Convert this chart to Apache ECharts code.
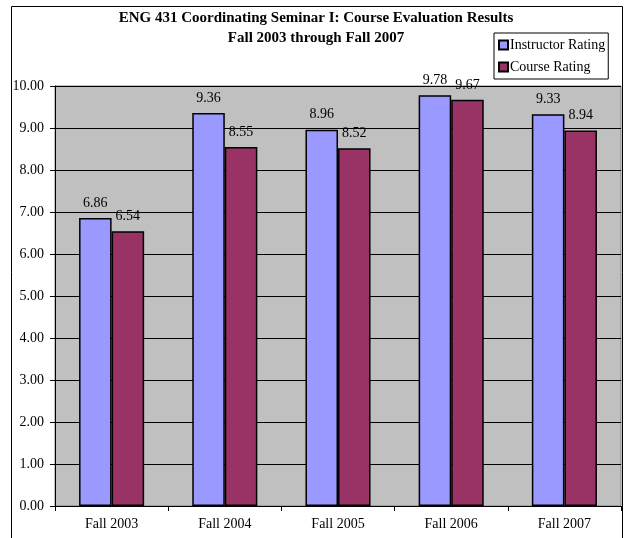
<!DOCTYPE html>
<html>
<head>
<meta charset="utf-8">
<script src="https://cdn.jsdelivr.net/npm/echarts@6/dist/echarts.min.js"></script>
<style>
  html, body { margin: 0; padding: 0; background: #ffffff; }
  #chart { width: 626px; height: 538px; }
</style>
</head>
<body>
<div id="chart"></div>
<script>
// Course evaluation results, ENG 431, Fall 2003 - Fall 2007
const terms = ['Fall 2003', 'Fall 2004', 'Fall 2005', 'Fall 2006', 'Fall 2007'];
const instructorRating = [6.86, 9.36, 8.96, 9.78, 9.33];
const courseRating = [6.54, 8.55, 8.52, 9.67, 8.94];
const seriesNames = ['Instructor Rating', 'Course Rating'];
const titleLines = ['ENG 431 Coordinating Seminar I: Course Evaluation Results', 'Fall 2003 through Fall 2007'];

const serif = '"Liberation Serif", "Times New Roman", serif';
const chart = echarts.init(document.getElementById('chart'), null, { renderer: 'canvas' });

const valueLabel = {
  show: true,
  position: 'top',
  distance: 8,
  color: '#000',
  fontFamily: serif,
  fontSize: 14,
  formatter: p => p.value.toFixed(2)
};

chart.setOption({
  animation: false,
  backgroundColor: '#ffffff',
  graphic: [
    {
      type: 'rect', z: -1, silent: true,
      shape: { x: 11.5, y: 6.5, width: 611, height: 540 },
      style: { fill: 'none', stroke: '#000', lineWidth: 1 }
    },
    {
      type: 'text', silent: true,
      x: 316, y: 18,
      style: {
        text: titleLines[0], textAlign: 'center', textVerticalAlign: 'middle',
        font: 'bold 15px ' + serif, fill: '#000'
      }
    },
    {
      type: 'text', silent: true,
      x: 316, y: 38,
      style: {
        text: titleLines[1], textAlign: 'center', textVerticalAlign: 'middle',
        font: 'bold 15px ' + serif, fill: '#000'
      }
    }
  ],
  legend: {
    data: seriesNames,
    orient: 'vertical',
    left: 494,
    top: 33,
    borderColor: '#000',
    borderWidth: 1,
    padding: [5, 3, 5, 4],
    itemGap: 8,
    itemWidth: 9,
    itemHeight: 9,
    icon: 'rect',
    textStyle: { fontFamily: serif, fontSize: 14, color: '#000', padding: [0, 0, 0, -3] },
    backgroundColor: '#fff'
  },
  grid: {
    left: 55, right: 5, top: 86, bottom: 32,
    show: true,
    backgroundColor: '#C0C0C0',
    borderColor: '#808080',
    borderWidth: 1
  },
  xAxis: {
    type: 'category',
    data: terms,
    axisLine: { show: true, lineStyle: { color: '#000', width: 1 } },
    axisTick: { show: true, length: 5, inside: false, lineStyle: { color: '#000' } },
    axisLabel: { fontFamily: serif, fontSize: 14, color: '#000', margin: 11 },
    splitLine: { show: false }
  },
  yAxis: {
    type: 'value',
    min: 0,
    max: 10,
    interval: 1,
    axisLine: { show: true, lineStyle: { color: '#000', width: 1 } },
    axisTick: { show: true, length: 5, lineStyle: { color: '#000' } },
    axisLabel: { fontFamily: serif, fontSize: 14, color: '#000', margin: 11, formatter: v => v.toFixed(2) },
    splitLine: { show: true, lineStyle: { color: '#000', width: 1 } }
  },
  series: [
    {
      name: seriesNames[0],
      type: 'bar',
      data: instructorRating,
      barGap: '0%',
      barCategoryGap: '42.5%',
      itemStyle: { color: '#9999FF', borderColor: '#000', borderWidth: 1.5 },
      label: valueLabel
    },
    {
      name: seriesNames[1],
      type: 'bar',
      data: courseRating,
      itemStyle: { color: '#993366', borderColor: '#000', borderWidth: 1.5 },
      label: valueLabel
    }
  ]
});
</script>
</body>
</html>
